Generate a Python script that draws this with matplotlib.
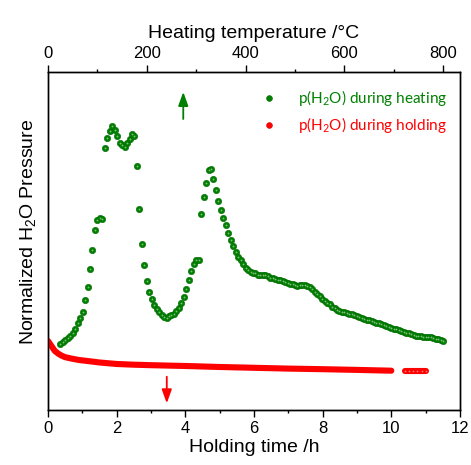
import matplotlib
matplotlib.use("Agg")
import matplotlib.pyplot as plt
import numpy as np
from matplotlib.lines import Line2D

plt.rcParams['font.family'] = ['Liberation Sans', 'DejaVu Sans']
plt.rcParams['mathtext.default'] = 'regular'

# heating run: one point every 5 degC (top axis)
heat_T = np.arange(25, 805, 5)
heat_p = [0.66, 0.68, 0.70, 0.72, 0.74, 0.765, 0.81, 0.865, 0.915, 0.98,
          1.10, 1.23, 1.41, 1.60, 1.80, 1.90, 1.923, 1.907, 2.617, 2.723,
          2.793, 2.843, 2.803, 2.737, 2.667, 2.647, 2.633, 2.667, 2.713, 2.76,
          2.743, 2.437, 2.007, 1.663, 1.45, 1.287, 1.183, 1.107, 1.05, 1.01,
          0.977, 0.953, 0.933, 0.923, 0.94, 0.95, 0.96, 0.99, 1.023, 1.067,
          1.127, 1.207, 1.30, 1.39, 1.463, 1.50, 1.50, 1.963, 2.133, 2.273,
          2.40, 2.407, 2.31, 2.20, 2.093, 1.997, 1.92, 1.85, 1.773, 1.70,
          1.64, 1.577, 1.533, 1.497, 1.46, 1.423, 1.40, 1.383, 1.373, 1.367,
          1.347, 1.345, 1.348, 1.35, 1.338, 1.323, 1.317, 1.31, 1.30, 1.30,
          1.292, 1.275, 1.267, 1.262, 1.255, 1.25, 1.243, 1.245, 1.25, 1.25,
          1.242, 1.225, 1.205, 1.18, 1.157, 1.135, 1.11, 1.09, 1.073, 1.057,
          1.03, 1.015, 1.00, 0.988, 0.98, 0.975, 0.97, 0.963, 0.957, 0.948,
          0.94, 0.93, 0.92, 0.912, 0.903, 0.897, 0.89, 0.882, 0.873, 0.865,
          0.857, 0.847, 0.837, 0.828, 0.82, 0.814, 0.807, 0.799, 0.79, 0.782,
          0.773, 0.767, 0.76, 0.752, 0.743, 0.74, 0.737, 0.734, 0.73, 0.729,
          0.727, 0.72, 0.713, 0.705, 0.697, 0.69]

# holding run (bottom axis, hours)
hold_t = [0, 0.05, 0.1, 0.15, 0.2, 0.3, 0.4, 0.5, 0.7, 0.9, 1.2, 1.5, 2.0,
          2.5, 3.0, 3.5, 4.0, 5.0, 6.0, 7.0, 8.0, 9.0, 10.0]
hold_p = [0.69, 0.665, 0.64, 0.615, 0.59, 0.563, 0.543, 0.528, 0.513, 0.50,
          0.488, 0.475, 0.46, 0.453, 0.448, 0.444, 0.44, 0.43, 0.422, 0.414,
          0.408, 0.401, 0.393]
hold_t2 = [10.40, 10.52, 10.64, 10.76, 10.88, 11.0]
hold_p2 = [0.393, 0.393, 0.393, 0.393, 0.393, 0.393]

green = '#008000'
red = '#ff0000'

fig = plt.figure(figsize=(4.71, 4.65), dpi=100)
ax = fig.add_axes([0.1019, 0.1183, 0.8747, 0.7269])
ax.set_xlim(0, 12)
ax.set_ylim(0, 3.38)
ax2 = ax.twiny()
ax2.set_xlim(0, 834)

# red band
ax.plot(hold_t, hold_p, color=red, lw=4.4, solid_capstyle='round', zorder=3)
ax.plot(hold_t2, hold_p2, color=red, lw=4.4, solid_capstyle='round', zorder=3)
ax.plot(hold_t2, hold_p2, 'o', ms=1.2, color='#ff8080', mew=0, zorder=3)

# green balls with a small highlight
ax2.plot(heat_T, heat_p, 'o', ms=4.6, color=green, mec='#006a00', mew=0.4, zorder=4)
ax2.plot(heat_T, heat_p, 'o', ms=1.3, color='#7cc07c', mew=0, zorder=5)

# arrows
ax.annotate('', xy=(3.94, 3.18), xytext=(3.94, 2.91),
            arrowprops=dict(arrowstyle='-|>,head_length=0.55,head_width=0.2',
                            color=green, lw=1.3, mutation_scale=15, shrinkA=0, shrinkB=0))
ax.annotate('', xy=(3.46, 0.067), xytext=(3.46, 0.333),
            arrowprops=dict(arrowstyle='-|>,head_length=0.55,head_width=0.2',
                            color=red, lw=1.3, mutation_scale=15, shrinkA=0, shrinkB=0))

# ticks and labels
ax.set_yticks([])
ax.set_xticks([0, 2, 4, 6, 8, 10, 12])
ax.set_xticks([1, 3, 5, 7, 9, 11], minor=True)
ax.tick_params(axis='x', which='major', direction='out', length=5, width=1, labelsize=12, pad=3)
ax.tick_params(axis='x', which='minor', direction='out', length=2.5, width=1)
ax2.set_xticks([0, 200, 400, 600, 800])
ax2.set_xticks([100, 300, 500, 700], minor=True)
ax2.tick_params(axis='x', which='major', direction='out', length=5, width=1, labelsize=12, pad=3)
ax2.tick_params(axis='x', which='minor', direction='out', length=2.5, width=1)
for a in (ax, ax2):
    for s in a.spines.values():
        s.set_linewidth(1.0)

ax.set_xlabel('Holding time /h', fontsize=14, labelpad=2)
ax2.set_xlabel('Heating temperature /°C', fontsize=14, labelpad=6)
ax.set_ylabel('Normalized H$_2$O Pressure', fontsize=14)
ax.yaxis.set_label_coords(-0.025, 0.528)

handles = [Line2D([], [], ls='', marker='o', ms=4.2, color=green, mec='#006a00', mew=0.4),
           Line2D([], [], ls='', marker='o', ms=4.2, color=red, mec='#e00000', mew=0.4)]
leg = ax.legend(handles, ['p(H$_2$O) during heating', 'p(H$_2$O) during holding'],
                loc='upper right', bbox_to_anchor=(0.968, 0.952), frameon=False,
                prop={'family': 'Lato', 'size': 11}, handlelength=1.0,
                handletextpad=1.4, labelspacing=0.45, borderpad=0, borderaxespad=0)
for txt, c in zip(leg.get_texts(), [green, red]):
    txt.set_color(c)

fig.savefig('out.png', dpi=100)
